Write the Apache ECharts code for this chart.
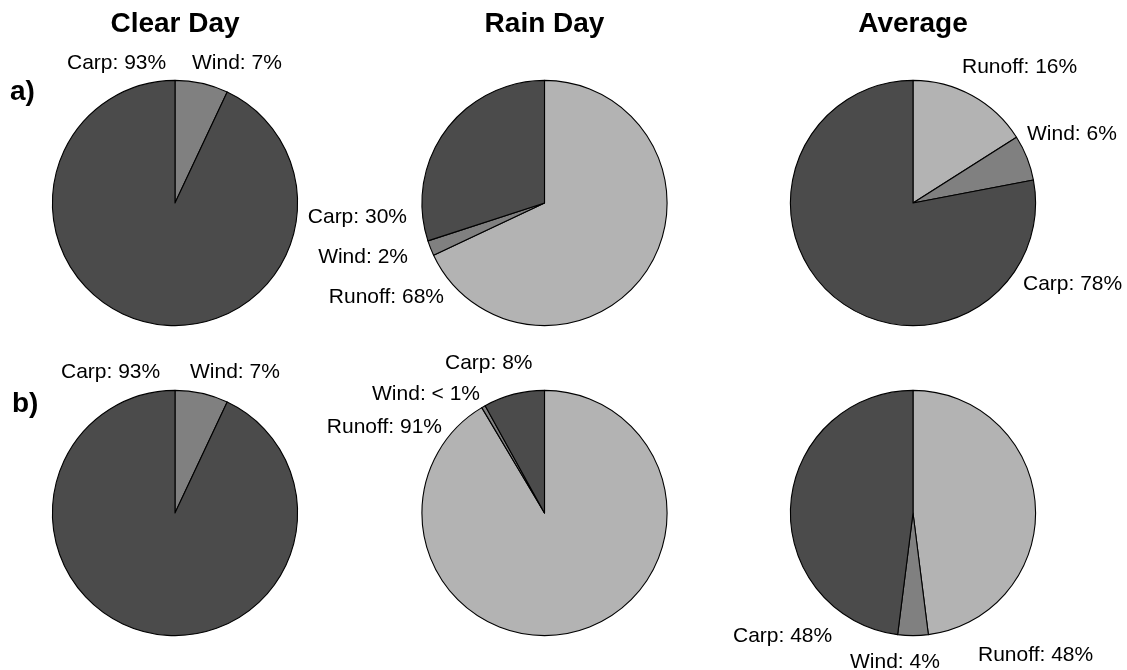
<!DOCTYPE html>
<html>
<head>
<meta charset="utf-8">
<title>Water source pies</title>
<script src="https://cdn.jsdelivr.net/npm/echarts@6/dist/echarts.min.js"></script>
<style>
  html, body { margin: 0; padding: 0; background: #fff; }
  #chart { width: 1127px; height: 670px; }
</style>
</head>
<body>
<div id="chart"></div>
<script>
// Source categories, in clockwise order from 12 o'clock
const categories = ['Runoff', 'Wind', 'Carp'];
const columnTitles = ['Clear Day', 'Rain Day', 'Average'];
const rowTags = ['a)', 'b)'];

// Percent contribution of each source (Runoff, Wind, Carp)
const clearDayA = [0, 7, 93];
const rainDayA = [68, 2, 30];
const averageA = [16, 6, 78];
const clearDayB = [0, 7, 93];
const rainDayB = [91, 0.5, 8];
const averageB = [48, 4, 48];

const panels = [clearDayA, rainDayA, averageA, clearDayB, rainDayB, averageB];

// Slice fills per source
const fills = { Runoff: '#b3b3b3', Wind: '#808080', Carp: '#4b4b4b' };

// Pie placement
const colX = [175, 544.5, 913];
const rowY = [203, 513];
const pieRadius = 122.6;

// Label anchors per panel: [x, y, align]
const labelSpots = [
  { Carp: [67, 63, 'left'], Wind: [192, 63, 'left'] },
  { Carp: [407, 217, 'right'], Wind: [408, 257, 'right'], Runoff: [444, 297, 'right'] },
  { Runoff: [962, 67, 'left'], Wind: [1027, 134, 'left'], Carp: [1023, 284, 'left'] },
  { Carp: [61, 372, 'left'], Wind: [190, 372, 'left'] },
  { Carp: [445, 363, 'left'], Wind: [480, 394, 'right'], Runoff: [442, 427, 'right'] },
  { Carp: [733, 636, 'left'], Wind: [850, 662, 'left'], Runoff: [978, 655, 'left'] }
];

const FONT = '"Liberation Sans", Arial, Helvetica, sans-serif';

function pctText(v) {
  return v < 1 ? '< 1%' : v + '%';
}

// Slice lists, skipping sources with no share
const pieData = panels.map(function (values) {
  const data = [];
  values.forEach(function (v, k) {
    if (v > 0) {
      data.push({ name: categories[k], value: v, itemStyle: { color: fills[categories[k]] } });
    }
  });
  return data;
});

const series = pieData.map(function (data, i) {
  return {
    type: 'pie',
    center: [colX[i % 3], rowY[Math.floor(i / 3)]],
    radius: [0, pieRadius],
    startAngle: 90,
    clockwise: true,
    minAngle: 0,
    avoidLabelOverlap: false,
    silent: true,
    data: data,
    itemStyle: { borderColor: '#000', borderWidth: 1.1 },
    label: {
      show: true,
      position: 'outside',
      color: '#000',
      fontFamily: FONT,
      fontSize: 21,
      formatter: function (p) { return p.name + ': ' + pctText(p.value); }
    },
    labelLine: { show: false },
    emphasis: { disabled: true }
  };
});

// Place every label at its anchor beside its pie
function placeLabel(p) {
  const d = pieData[p.seriesIndex] && pieData[p.seriesIndex][p.dataIndex];
  const spots = labelSpots[p.seriesIndex];
  if (!d || !spots || !spots[d.name]) {
    return {};
  }
  const s = spots[d.name];
  return { x: s[0], y: s[1], align: s[2], verticalAlign: 'middle' };
}
series.forEach(function (s) { s.labelLayout = placeLabel; });

const titles = columnTitles.map(function (t, i) {
  return {
    text: t,
    left: colX[i],
    top: 10,
    padding: 0,
    textAlign: 'center',
    textStyle: { fontFamily: FONT, fontSize: 28, fontWeight: 'bold', color: '#000' }
  };
}).concat(rowTags.map(function (t, i) {
  return {
    text: t,
    left: i === 0 ? 10 : 12,
    top: i === 0 ? 78 : 390,
    padding: 0,
    textStyle: { fontFamily: FONT, fontSize: 28, fontWeight: 'bold', color: '#000' }
  };
}));

const chart = echarts.init(document.getElementById('chart'), null, { renderer: 'canvas' });
chart.setOption({
  animation: false,
  backgroundColor: '#fff',
  title: titles,
  series: series
});
</script>
</body>
</html>
